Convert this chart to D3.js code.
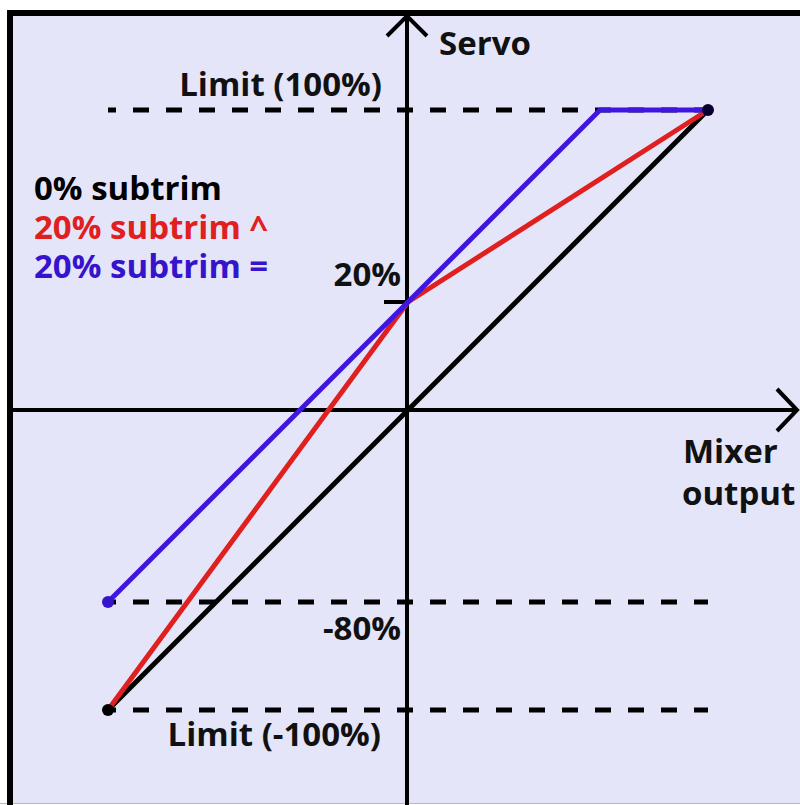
<!DOCTYPE html>
<html>
<head>
<meta charset="utf-8">
<script src="https://cdn.jsdelivr.net/npm/d3@7/dist/d3.min.js"></script>
<style>
  html, body { margin: 0; padding: 0; background: #fff; }
  svg { display: block; font-family: "Open Sans", "DejaVu Sans", sans-serif; font-weight: 700; }
</style>
</head>
<body>
<div id="chart"></div>
<script>
/* Servo position against mixer output for three subtrim settings.
   The drawing is schematic, so the servo scale is piecewise: the 20% and
   -80% marks sit where the original sketch put them. */
var xBlack = [-100, 0, 100], yBlack = [-100, 0, 100];     // 0% subtrim
var xRed = [-100, 0, 100], yRed = [-100, 20, 100];        // 20% subtrim ^
var xBlue = [-100, 0, 64, 100], yBlue = [-80, 20, 100, 100]; // 20% subtrim =
var limitLevels = [100, -80, -100];
var legendLabels = ["0% subtrim", "20% subtrim ^", "20% subtrim ="];
var legendColors = ["#000", "#e0201e", "#3514cc"];

(function () {
  var W = 800, H = 805;
  var svg = d3.select("#chart").append("svg")
    .attr("width", W).attr("height", H);

  var x = d3.scaleLinear().domain([-100, 100]).range([108, 708]);
  var y = d3.scaleLinear()
    .domain([-100, -80, 0, 20, 100])
    .range([710, 602, 410, 302, 110]);

  // panel: lavender field with a heavy black frame top and left
  svg.append("rect").attr("x", 10).attr("y", 13)
    .attr("width", W - 10).attr("height", 790).attr("fill", "#e5e5fa");
  svg.append("line").attr("x1", 0).attr("x2", W)
    .attr("y1", 803.5).attr("y2", 803.5)
    .attr("stroke", "#b8b8c4").attr("stroke-width", 1);
  svg.append("path").attr("d", "M10,805V13H800")
    .attr("fill", "none").attr("stroke", "#000").attr("stroke-width", 6);

  // limit guides
  svg.append("g").selectAll("line").data(limitLevels).join("line")
    .attr("x1", x(-100)).attr("x2", x(100))
    .attr("y1", function (d) { return y(d); })
    .attr("y2", function (d) { return y(d); })
    .attr("stroke", "#000").attr("stroke-width", 5)
    .attr("stroke-dasharray", "16,17").attr("stroke-dashoffset", 8);

  // axes with open arrowheads
  var ax = svg.append("g").attr("stroke", "#000").attr("stroke-width", 4)
    .attr("fill", "none");
  ax.append("line").attr("x1", 12).attr("x2", 797)
    .attr("y1", y(0)).attr("y2", y(0));
  ax.append("line").attr("x1", x(0) - 1).attr("x2", x(0) - 1)
    .attr("y1", H).attr("y2", 16);
  ax.append("path")
    .attr("d", "M" + (x(0) - 21) + ",36L" + (x(0) - 1) + ",16L" + (x(0) + 19) + ",36");
  ax.append("path")
    .attr("d", "M777,389L797," + y(0) + "L777,431");
  ax.append("line").attr("x1", x(0) - 24).attr("x2", x(0) - 1)
    .attr("y1", y(20)).attr("y2", y(20));

  // curves
  function pts(xs, ys) { return xs.map(function (v, i) { return [v, ys[i]]; }); }
  var line = d3.line().x(function (d) { return x(d[0]); })
    .y(function (d) { return y(d[1]); });
  var series = [
    { p: pts(xBlack, yBlack), c: legendColors[0] },
    { p: pts(xRed, yRed), c: legendColors[1] },
    { p: pts(xBlue, yBlue), c: "#3f16e0" }
  ];
  svg.append("g").selectAll("path").data(series).join("path")
    .attr("d", function (d) { return line(d.p); })
    .attr("fill", "none").attr("stroke", function (d) { return d.c; })
    .attr("stroke-width", 5).attr("stroke-linejoin", "round");

  // end points
  var dots = [
    { p: [xBlue[0], yBlue[0]], c: "#3514cc" },
    { p: [xBlack[0], yBlack[0]], c: "#000" },
    { p: [xBlack[2], yBlack[2]], c: "#0a0030" }
  ];
  svg.append("g").selectAll("circle").data(dots).join("circle")
    .attr("cx", function (d) { return x(d.p[0]); })
    .attr("cy", function (d) { return y(d.p[1]); })
    .attr("r", 6).attr("fill", function (d) { return d.c; });

  // text
  var fs = 33;
  function label(tx, ty, s, anchor, col) {
    svg.append("text").attr("x", tx).attr("y", ty)
      .attr("text-anchor", anchor || "start")
      .attr("fill", col || "#111").attr("font-size", fs).text(s);
  }
  label(439, 55, "Servo");
  label(382, 96, "Limit (100%)", "end");
  legendLabels.forEach(function (s, i) {
    label(34, 200 + i * 39, s, "start", legendColors[i]);
  });
  label(401, 286, "20%", "end");
  label(401, 640, "-80%", "end");
  label(381, 746, "Limit (-100%)", "end");
  label(683, 463, "Mixer");
  label(682, 505, "output");
})();
</script>
</body>
</html>
